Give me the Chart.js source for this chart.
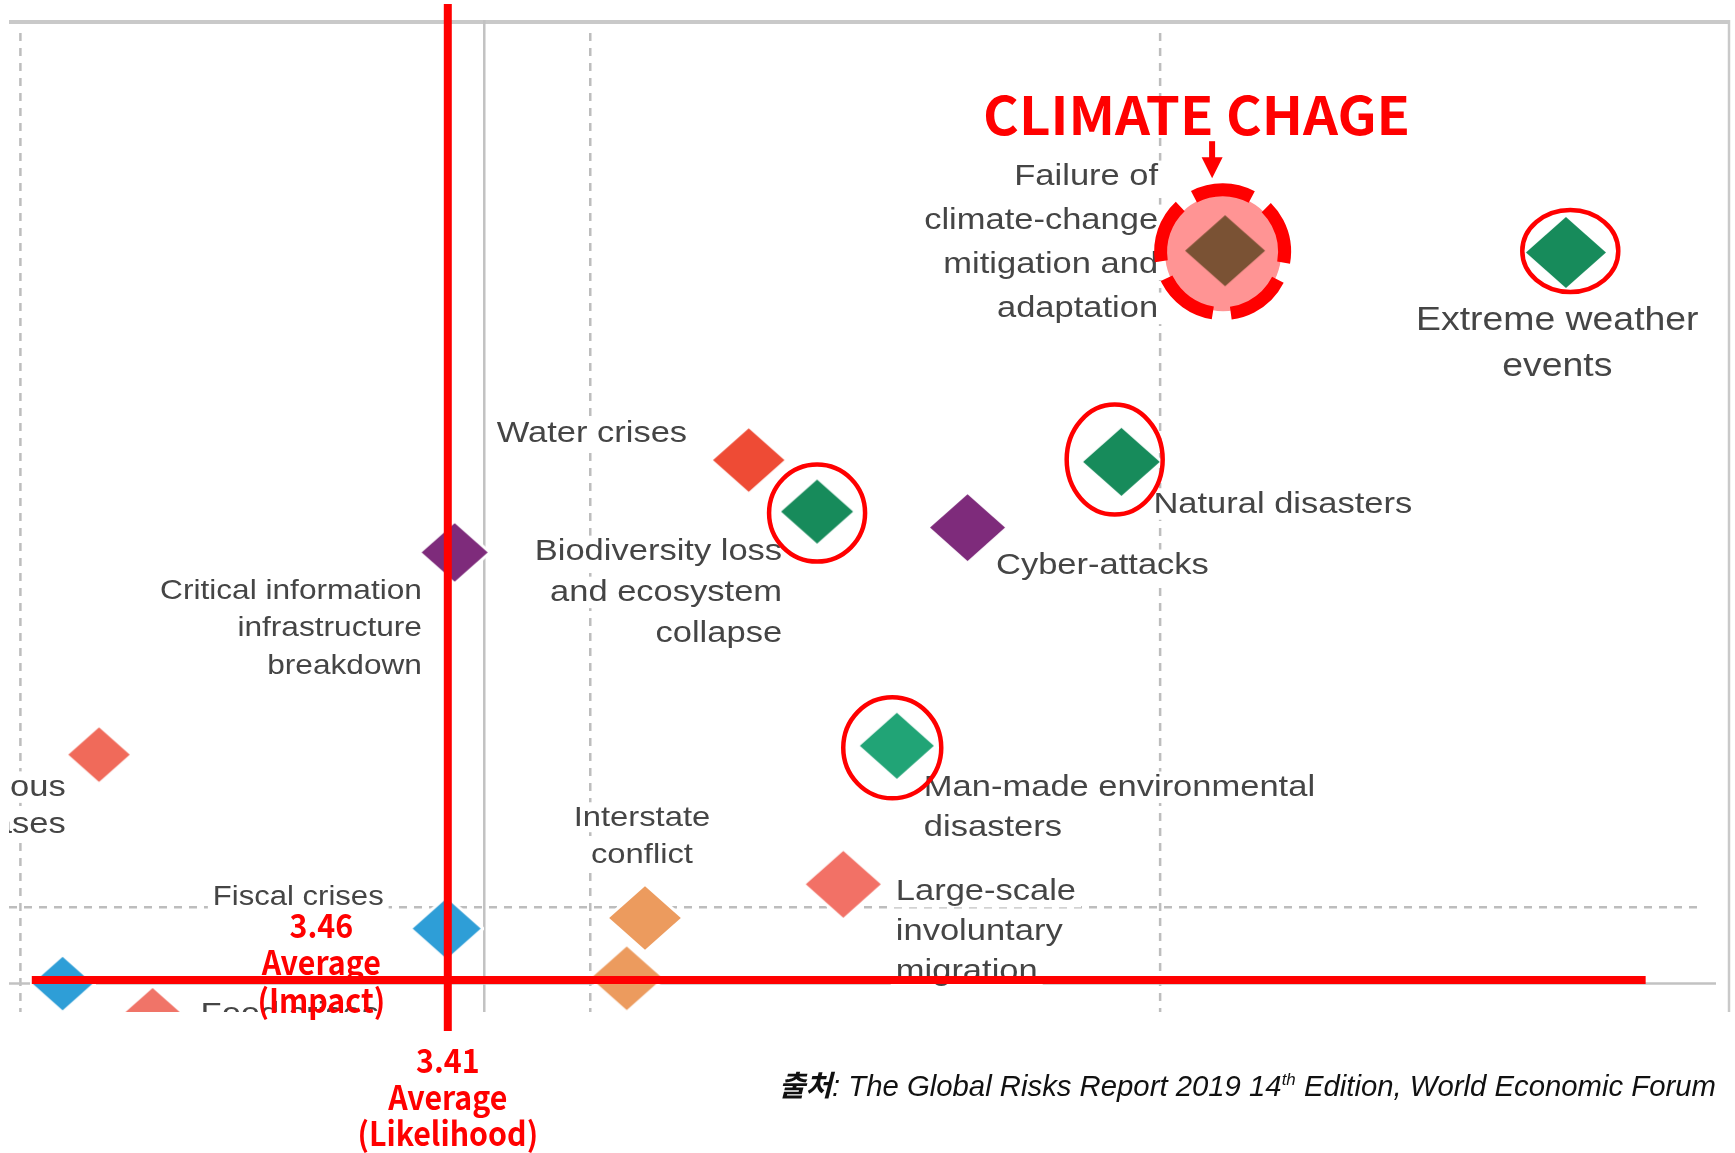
<!DOCTYPE html>
<html>
<head>
<meta charset="utf-8">
<script src="https://cdn.jsdelivr.net/npm/chart.js"></script>
<style>
  html, body { margin: 0; padding: 0; background: #fff; }
  canvas { display: block; }
</style>
</head>
<body>
<canvas id="landscape" width="1735" height="1153"></canvas>
<script>
// Global risks landscape (crop) - likelihood (x) vs impact (y)
const risks = [
  'Failure of\nclimate-change\nmitigation and\nadaptation',
  'Extreme weather\nevents',
  'Natural disasters',
  'Water crises',
  'Biodiversity loss\nand ecosystem\ncollapse',
  'Cyber-attacks',
  'Critical information\ninfrastructure\nbreakdown',
  'Infectious\ndiseases',
  'Man-made environmental\ndisasters',
  'Large-scale\ninvoluntary\nmigration',
  'Interstate\nconflict',
  'Fiscal crises',
  '',
  '',
  'Food crises'
];
const likelihood = [4.057, 4.356, 3.966, 3.639, 3.699, 3.831, 3.381, 3.069, 3.769, 3.722, 3.548, 3.374, 3.532, 3.037, 3.116];
const impact     = [3.870, 3.869, 3.751, 3.752, 3.723, 3.714, 3.700, 3.586, 3.591, 3.513, 3.494, 3.488, 3.460, 3.457, 3.439];

// grid and average lines of the original chart
const gridLikelihood = [3.0, 3.5, 4.0];
const gridImpact = [3.5];
const avgLikelihood = 3.407;
const avgImpact = 3.457;

// red annotations drawn on top
const markLikelihood = 3.375, markLikelihoodText = ['3.41', 'Average', '(Likelihood)'];
const markImpact = 3.459, markImpactText = ['3.46', 'Average', '(Impact)'];
const circled = [1, 2, 4, 8];
const highlight = 0;

// ---- styles ----
const pointColors = ['#7A5234', '#178B5B', '#178B5B', '#EE4B35', '#178B5B', '#7E2B7B', '#7E2B7B',
  '#F06A5A', '#21A476', '#F27166', '#EC9B5E', '#2E9ED7', '#EC9B5E', '#2E9ED7', '#F07468'];
const markHalfW = [40, 40, 38.3, 35.7, 36, 37.5, 33, 30.7, 37, 37.5, 35.8, 34, 35.8, 30, 31];
const labelPlace = [
  {dx: -67, dy: -65.5, align: 'right', lh: 44},
  {dx: -8.6, dy: 77.5, align: 'center', lh: 46, size: 32.5},
  {dx: 32, dy: 51, align: 'left'},
  {dx: -61.6, dy: -18.3, align: 'right'},
  {dx: -35, dy: 48.7, align: 'right', lh: 41},
  {dx: 28.5, dy: 46.6, align: 'left'},
  {dx: -32.7, dy: 46.3, align: 'right', lh: 37.5, size: 27.5},
  {dx: -33.3, dy: 41.3, align: 'right', lh: 37},
  {dx: 27, dy: 50.3, align: 'left', lh: 40},
  {dx: 52.5, dy: 16.2, align: 'left', lh: 40},
  {dx: -3, dy: -92.3, align: 'center', lh: 37.6, size: 28.5},
  {dx: -63, dy: -23.5, align: 'right', size: 27},
  null,
  null,
  {dx: 48, dy: 7, align: 'left'}
];
const ringPlace = {
  1: {dx: 4.4, dy: -1.5, rx: 48, ry: 41},
  2: {dx: -6.7, dy: -2.3, rx: 48, ry: 55},
  4: {dx: 0, dy: 1.5, rx: 48, ry: 48.5},
  8: {dx: -4.6, dy: 2, rx: 49, ry: 50.5}
};
const TEXT_SX = 1.15;
const RED = '#FF0000';

function diamond(color, hw, outline) {
  const hh = hw * 0.89, pad = 3;
  const c = document.createElement('canvas');
  c.width = Math.round(2 * hw + 2 * pad);
  c.height = Math.round(2 * hh + 2 * pad);
  const g = c.getContext('2d');
  const cx = c.width / 2, cy = c.height / 2;
  g.beginPath();
  g.moveTo(cx, cy - hh); g.lineTo(cx + hw, cy); g.lineTo(cx, cy + hh); g.lineTo(cx - hw, cy);
  g.closePath();
  if (outline) { g.strokeStyle = '#fff'; g.lineWidth = 2 * pad; g.stroke(); }
  g.fillStyle = color; g.fill();
  return c;
}

function line(ctx, x1, y1, x2, y2) {
  ctx.beginPath(); ctx.moveTo(x1, y1); ctx.lineTo(x2, y2); ctx.stroke();
}

function drawLabels(ctx, x, y) {
  const items = [];
  risks.forEach((name, i) => {
    const p = labelPlace[i];
    if (!p || !name) return;
    const px = x.getPixelForValue(likelihood[i]) + p.dx;
    const py = y.getPixelForValue(impact[i]) + p.dy;
    const size = p.size || 30;
    const font = size + 'px "Liberation Sans", Arial, sans-serif';
    ctx.font = font;
    name.split('\n').forEach((t, k) => {
      const w = ctx.measureText(t).width * TEXT_SX;
      const left = p.align === 'right' ? px - w : p.align === 'center' ? px - w / 2 : px;
      items.push({t, left, base: py + k * (p.lh || 40), size, w, font});
    });
  });
  ctx.fillStyle = '#fff';
  items.forEach(o => ctx.fillRect(o.left - 5, o.base - o.size * 0.82, o.w + 10, o.size * 1.05));
  ctx.fillStyle = '#454545';
  ctx.textAlign = 'left'; ctx.textBaseline = 'alphabetic';
  items.forEach(o => {
    ctx.font = o.font;
    ctx.save(); ctx.translate(o.left, o.base); ctx.scale(TEXT_SX, 1);
    ctx.fillText(o.t, 0, 0);
    ctx.restore();
  });
}

function redText(ctx, t, cx, base, size, sx) {
  ctx.font = 'bold ' + size + 'px "Noto Sans CJK KR", "Noto Sans", sans-serif';
  const w = ctx.measureText(t).width * sx;
  ctx.save(); ctx.translate(cx - w / 2, base); ctx.scale(sx, 1);
  ctx.fillText(t, 0, 0);
  ctx.restore();
}

function sourceLine(ctx, right, base, width) {
  const parts = [
    {t: '출처', f: 'italic bold 29px "Noto Sans CJK KR"', dy: 0},
    {t: ': The Global Risks Report 2019 14', f: 'italic 29.5px "Liberation Sans"', dy: 0},
    {t: 'th', f: 'italic 17px "Liberation Sans"', dy: -11},
    {t: ' Edition, World Economic Forum', f: 'italic 29.5px "Liberation Sans"', dy: 0}
  ];
  let total = 0;
  parts.forEach(p => { ctx.font = p.f; p.w = ctx.measureText(p.t).width; total += p.w; });
  ctx.save();
  ctx.translate(right - width, base); ctx.scale(width / total, 1);
  ctx.fillStyle = '#111';
  let cx = 0;
  parts.forEach(p => { ctx.font = p.f; ctx.fillText(p.t, cx, p.dy); cx += p.w; });
  ctx.restore();
}

const landscapePlugin = {
  id: 'landscape',
  beforeDatasetsDraw(chart) {
    const {ctx, chartArea: a, scales: {x, y}} = chart;
    ctx.save();
    // frame
    ctx.strokeStyle = '#c9c9c9';
    ctx.lineWidth = 4;
    line(ctx, a.left, a.top + 2, a.right, a.top + 2);
    ctx.lineWidth = 2.5;
    line(ctx, a.right - 1, a.top, a.right - 1, a.bottom);

    ctx.beginPath(); ctx.rect(a.left, a.top, a.right - a.left, a.bottom - a.top); ctx.clip();
    // dashed grid
    ctx.setLineDash([8, 7]);
    ctx.strokeStyle = '#bdbdbd'; ctx.lineWidth = 2.5;
    gridLikelihood.forEach(v => {
      const px = x.getPixelForValue(v);
      line(ctx, px, a.top + 13, px, a.bottom);
    });
    gridImpact.forEach(v => {
      const py = y.getPixelForValue(v);
      line(ctx, a.left, py, a.right - 33, py);
    });
    ctx.setLineDash([]);
    // averages
    ctx.strokeStyle = '#c2c2c2'; ctx.lineWidth = 2.5;
    const ax = x.getPixelForValue(avgLikelihood);
    line(ctx, ax, a.top, ax, a.bottom);
    const ay = y.getPixelForValue(avgImpact);
    line(ctx, a.left, ay, a.right - 14, ay);

    drawLabels(ctx, x, y);

    // halo under the highlighted risk
    const hx = x.getPixelForValue(likelihood[highlight]);
    const hy = y.getPixelForValue(impact[highlight]);
    ctx.fillStyle = '#FF9494';
    ctx.beginPath(); ctx.arc(hx - 2, hy + 2.5, 58, 0, Math.PI * 2); ctx.fill();
    ctx.restore();
  },
  afterDatasetsDraw(chart) {
    const {ctx, chartArea: a, scales: {x, y}} = chart;
    ctx.save();
    ctx.strokeStyle = RED; ctx.fillStyle = RED;

    // red circles
    ctx.lineWidth = 4.5;
    circled.forEach(i => {
      const r = ringPlace[i];
      const cx = x.getPixelForValue(likelihood[i]) + r.dx;
      const cy = y.getPixelForValue(impact[i]) + r.dy;
      ctx.beginPath(); ctx.ellipse(cx, cy, r.rx, r.ry, 0, 0, Math.PI * 2); ctx.stroke();
    });

    // dashed ring, arrow and title on the highlighted risk
    const hx = x.getPixelForValue(likelihood[highlight]);
    const hy = y.getPixelForValue(impact[highlight]);
    ctx.lineWidth = 13;
    ctx.setLineDash([60, 18]);
    const a0 = 242.5 * Math.PI / 180;
    ctx.beginPath(); ctx.arc(hx - 2.5, hy + 1, 62, a0, a0 + Math.PI * 2); ctx.stroke();
    ctx.setLineDash([]);

    const arX = hx - 13;
    ctx.fillRect(arX - 3, hy - 109.5, 6, 18);
    ctx.beginPath();
    ctx.moveTo(arX - 10.5, hy - 93.5); ctx.lineTo(arX + 10.5, hy - 93.5); ctx.lineTo(arX, hy - 72.5);
    ctx.closePath(); ctx.fill();
    redText(ctx, 'CLIMATE CHAGE', hx - 28.5, hy - 115.5, 53, 1.03);

    // average marker lines
    ctx.lineWidth = 8;
    const mx = x.getPixelForValue(markLikelihood);
    line(ctx, mx, a.top - 16, mx, a.bottom + 19);
    const my = y.getPixelForValue(markImpact);
    line(ctx, x.getPixelForValue(3.01), my, x.getPixelForValue(4.426), my);

    const ix = x.getPixelForValue(3.264);
    [-42, -5.3, 32.7].forEach((d, k) => redText(ctx, markImpactText[k], ix, my + d, 33, 0.92));
    [61.3, 98, 134].forEach((d, k) => redText(ctx, markLikelihoodText[k], mx, a.bottom + d, 33, 0.92));

    sourceLine(ctx, 1716, 1096, 937);
    ctx.restore();
  }
};

new Chart(document.getElementById('landscape'), {
  type: 'scatter',
  data: {
    datasets: [{
      data: likelihood.map((v, i) => ({x: v, y: impact[i]})),
      pointStyle: pointColors.map((c, i) => diamond(c, markHalfW[i], i !== highlight)),
      pointRadius: markHalfW,
      pointHoverRadius: markHalfW
    }]
  },
  options: {
    responsive: false,
    animation: false,
    events: [],
    layout: {autoPadding: false, padding: {left: 9, right: 5, top: 20, bottom: 141}},
    plugins: {legend: {display: false}, tooltip: {enabled: false}},
    scales: {
      x: {type: 'linear', min: 2.99, max: 4.5, display: false},
      y: {type: 'linear', min: 3.441, max: 4.0, display: false}
    }
  },
  plugins: [landscapePlugin]
});
</script>
</body>
</html>
